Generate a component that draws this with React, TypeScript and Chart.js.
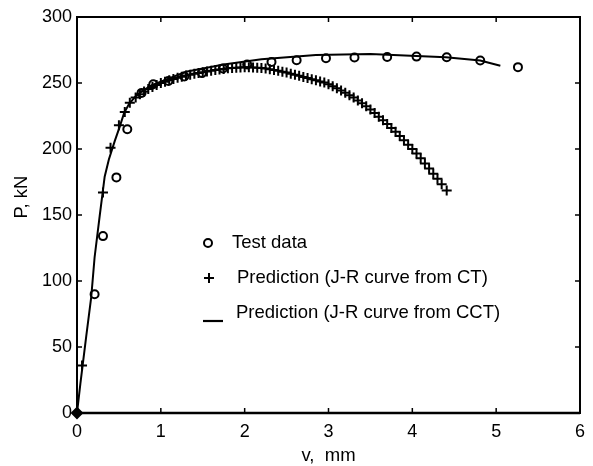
import React, { useEffect, useRef } from "react";
import { Chart, registerables } from "chart.js";

Chart.register(...registerables);

// ---------- data ----------
const xTickValues = [0, 1, 2, 3, 4, 5, 6];
const yTickValues = [0, 50, 100, 150, 200, 250, 300];

const xTitle = "v,  mm";
const yTitle = "P, kN";

const seriesLabels = [
  "Test data",
  "Prediction (J-R curve from CT)",
  "Prediction (J-R curve from CCT)",
];

// Test data (circles)
const testV = [0, 0.21, 0.31, 0.47, 0.6, 0.77, 0.91, 1.09, 1.28, 1.49, 1.74, 2.03, 2.32, 2.62, 2.97, 3.31, 3.7, 4.05, 4.41, 4.81, 5.26];
const testP = [0, 90, 134, 178.5, 215, 242.5, 249, 251.5, 255, 257.5, 261, 264, 266, 267.2, 268.8, 269.3, 269.7, 270, 269.5, 267, 262];

// Prediction from CT (plus markers)
const ctV = [
  0, 0.06, 0.31, 0.4, 0.5, 0.57, 0.63,
  0.7, 0.75, 0.8, 0.85, 0.9, 0.95, 1.0, 1.05, 1.1, 1.15, 1.2, 1.25, 1.3, 1.35, 1.4, 1.45, 1.5,
  1.55, 1.6, 1.65, 1.7, 1.75, 1.8, 1.85, 1.9, 1.95, 2.0, 2.05, 2.1, 2.15, 2.2, 2.25, 2.3,
  2.35, 2.4, 2.45, 2.5, 2.55, 2.6, 2.65, 2.7, 2.75, 2.8, 2.85, 2.9, 2.95, 3.0, 3.05, 3.1,
  3.15, 3.2, 3.25, 3.3, 3.35, 3.4, 3.45, 3.5, 3.55, 3.6, 3.65, 3.7, 3.75, 3.8, 3.85, 3.9,
  3.95, 4.0, 4.05, 4.1, 4.15, 4.2, 4.25, 4.3, 4.35, 4.41,
];
const ctP = [
  0, 36, 167, 201, 218, 228, 235,
  239, 241.5, 243.5, 245.5, 247, 248.5, 250, 251, 252, 253, 254, 254.8, 255.6, 256.3, 257, 257.6, 258.2,
  258.8, 259.3, 259.8, 260.3, 260.7, 261.1, 261.4, 261.6, 261.8, 262, 262, 261.8, 261.6, 261.3, 261, 260.5,
  259.9, 259.3, 258.6, 257.9, 257.1, 256.3, 255.4, 254.6, 253.8, 252.9, 252, 251.2, 250.3, 249, 247.5, 246,
  244.3, 242.6, 240.8, 239, 236.8, 234.6, 232.3, 230, 227.3, 224.5, 221.7, 218.9, 216, 213, 209.8, 206.6,
  203.3, 200, 196.5, 193, 189.1, 185.2, 181.3, 177.4, 173.3, 168.5,
];

// Prediction from CCT (solid line)
const cctV = [0, 0.04, 0.11, 0.17, 0.21, 0.27, 0.33, 0.38, 0.45, 0.51, 0.56, 0.62, 0.7, 0.78, 0.9, 1.0, 1.3, 1.75, 2.2, 2.85, 3.5, 4.05, 4.4, 4.81, 5.05];
const cctP = [0, 22, 58, 88, 118, 149, 179, 192, 206, 217, 227, 234, 240, 244, 248.5, 251, 258.5, 264, 268, 271.2, 272, 270.5, 269.5, 267, 263];

const FONT = "'Liberation Sans', Arial, Helvetica, sans-serif";

const toXY = (xs: number[], ys: number[]) => xs.map((x, i) => ({ x, y: ys[i] }));

const decorPlugin = {
  id: "decor",
  beforeDatasetsDraw(chart: any) {
    const { ctx, chartArea, scales } = chart;
    const { left, right, top, bottom } = chartArea;
    ctx.save();
    ctx.strokeStyle = "#000";
    ctx.lineWidth = 2;
    ctx.strokeRect(left, top, right - left, bottom - top);
    ctx.lineWidth = 2.5;
    ctx.beginPath();
    ctx.moveTo(left, bottom);
    ctx.lineTo(right, bottom);
    ctx.stroke();
    ctx.lineWidth = 1.5;
    const tl = 5;
    ctx.beginPath();
    for (const v of xTickValues) {
      const px = scales.x.getPixelForValue(v);
      ctx.moveTo(px, bottom);
      ctx.lineTo(px, bottom - tl);
      ctx.moveTo(px, top);
      ctx.lineTo(px, top + tl);
    }
    for (const v of yTickValues) {
      const py = scales.y.getPixelForValue(v);
      ctx.moveTo(left, py);
      ctx.lineTo(left + tl, py);
      ctx.moveTo(right, py);
      ctx.lineTo(right - tl, py);
    }
    ctx.stroke();
    ctx.restore();
  },
  afterDraw(chart: any) {
    const { ctx, chartArea } = chart;
    const labels = chart.data.datasets.map((d: any) => d.label);
    ctx.save();
    ctx.fillStyle = "#000";
    ctx.strokeStyle = "#000";
    // axis titles
    ctx.font = `18.5px ${FONT}`;
    ctx.textAlign = "center";
    ctx.textBaseline = "middle";
    ctx.fillText(xTitle, (chartArea.left + chartArea.right) / 2, 456);
    ctx.save();
    ctx.translate(22, 197);
    ctx.rotate(-Math.PI / 2);
    ctx.fillText(yTitle, 0, 0);
    ctx.restore();

    // legend
    ctx.textAlign = "left";
    ctx.font = `18.5px ${FONT}`;
    ctx.lineWidth = 2;
    // row 1: circle
    ctx.beginPath();
    ctx.arc(208, 243, 4, 0, Math.PI * 2);
    ctx.stroke();
    ctx.fillText(labels[0], 232, 243);
    // row 2: plus
    ctx.beginPath();
    ctx.moveTo(204, 278);
    ctx.lineTo(214, 278);
    ctx.moveTo(209, 273);
    ctx.lineTo(209, 283);
    ctx.stroke();
    ctx.fillText(labels[1], 237, 278);
    // row 3: line
    ctx.lineWidth = 2.2;
    ctx.beginPath();
    ctx.moveTo(203, 321);
    ctx.lineTo(223, 321);
    ctx.stroke();
    ctx.fillText(labels[2], 236, 313);
    ctx.restore();
  },
};

export default function App() {
  const canvasRef = useRef<HTMLCanvasElement | null>(null);

  useEffect(() => {
    const canvas = canvasRef.current;
    if (!canvas) return;
    const chart = new Chart(canvas, {
      type: "scatter",
      data: {
        datasets: [
          {
            label: seriesLabels[0],
            data: toXY(testV, testP),
            pointStyle: testV.map((_, i) => (i === 0 ? "rectRot" : "circle")) as any,
            pointRadius: testV.map((_, i) => (i === 0 ? 5 : 4)) as any,
            pointBackgroundColor: testV.map((_, i) => (i === 0 ? "#000" : "rgba(0,0,0,0)")) as any,
            pointBorderColor: "#000",
            pointBorderWidth: 2,
            showLine: false,
            clip: false as any,
          },
          {
            label: seriesLabels[1],
            data: toXY(ctV, ctP),
            pointStyle: "cross",
            pointRadius: 5,
            pointBorderColor: "#000",
            pointBorderWidth: 2,
            showLine: false,
            clip: false as any,
          },
          {
            label: seriesLabels[2],
            data: toXY(cctV, cctP),
            showLine: true,
            borderColor: "#000",
            borderWidth: 2,
            pointRadius: 0,
            tension: 0,
            clip: false as any,
          },
        ],
      },
      options: {
        animation: false,
        responsive: false,
        devicePixelRatio: 1,
        layout: { padding: { top: 17, right: 5, left: 0, bottom: 0 } },
        plugins: {
          legend: { display: false },
          tooltip: { enabled: false },
        },
        scales: {
          x: {
            type: "linear",
            min: 0,
            max: 6,
            afterFit: (s: any) => {
              s.height = 53;
            },
            afterBuildTicks: (s: any) => {
              s.ticks = xTickValues.map((v) => ({ value: v }));
            },
            grid: { display: false, drawTicks: false },
            border: { display: false },
            ticks: {
              color: "#000",
              font: { size: 18, family: FONT },
              padding: 8,
              maxRotation: 0,
              autoSkip: false,
            },
          },
          y: {
            type: "linear",
            min: 0,
            max: 300,
            afterFit: (s: any) => {
              s.width = 77;
            },
            afterBuildTicks: (s: any) => {
              s.ticks = yTickValues.map((v) => ({ value: v }));
            },
            grid: { display: false, drawTicks: false },
            border: { display: false },
            ticks: {
              color: "#000",
              font: { size: 18, family: FONT },
              padding: 5,
              autoSkip: false,
            },
          },
        },
      },
      plugins: [decorPlugin],
    });
    return () => chart.destroy();
  }, []);

  return (
    <div style={{ position: "absolute", left: 0, top: 0, width: 593, height: 466, background: "#fff" }}>
      <canvas ref={canvasRef} width={593} height={466} style={{ display: "block" }} />
    </div>
  );
}
